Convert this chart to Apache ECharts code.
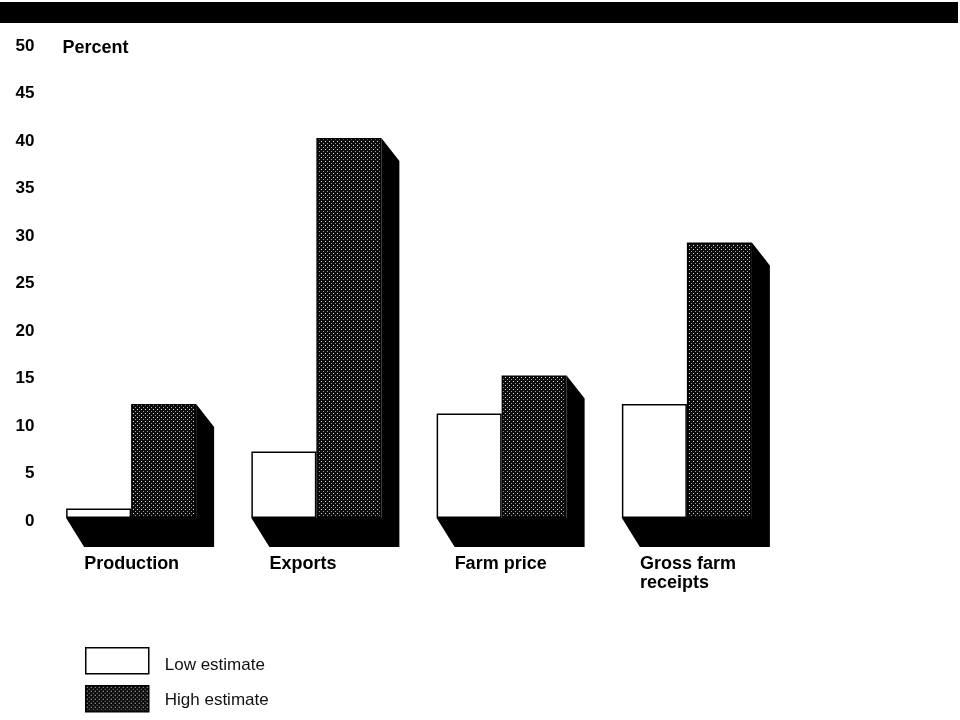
<!DOCTYPE html>
<html>
<head>
<meta charset="utf-8">
<title>Percent change estimates</title>
<script src="https://cdn.jsdelivr.net/npm/echarts@6/dist/echarts.min.js"></script>
<style>
  html, body { margin: 0; padding: 0; background: #fff; }
  #chart { width: 960px; height: 720px; }
</style>
</head>
<body>
<div id="chart"></div>
<script>
// Categories and the two estimate series (percent)
const categories = ['Production', 'Exports', 'Farm price', 'Gross farm\nreceipts'];
const lowEstimate = [1, 7, 11, 12];
const highEstimate = [12, 40, 15, 29];
const seriesNames = ['Low estimate', 'High estimate'];

// Y axis scale
const yMin = 0;
const yMax = 50;
const yStep = 5;

const BAR_W = 65;
const FONT = '"Liberation Sans", Arial, Helvetica, sans-serif';

// Stippled fill for the high estimate bars
function makeStipple() {
  const c = document.createElement('canvas');
  c.width = 4; c.height = 4;
  const g = c.getContext('2d');
  g.fillStyle = '#0b0b0b';
  g.fillRect(0, 0, 4, 4);
  g.fillStyle = '#e6e6e6';
  g.fillRect(1, 1, 1, 1);
  g.fillStyle = '#a0a0a0';
  g.fillRect(3, 3, 1, 1);
  return c;
}
const stipple = { image: makeStipple(), repeat: 'repeat' };

const chart = echarts.init(document.getElementById('chart'), null, { renderer: 'canvas' });

const shadowData = categories.map((c, i) => [i, lowEstimate[i], highEstimate[i]]);

const legendBase = {
  orient: 'vertical',
  left: 85,
  padding: 0,
  itemWidth: 63,
  itemHeight: 26,
  icon: 'rect',
  selectedMode: false,
  formatter: '{t|{name}}'
};
function legendText(padTop) {
  return {
    fontFamily: FONT, fontSize: 17, color: '#111',
    rich: { t: { fontFamily: FONT, fontSize: 17, color: '#111', padding: [padTop, 0, 0, 11] } }
  };
}

chart.setOption({
  animation: false,
  backgroundColor: '#fff',
  graphic: [
    { type: 'rect', left: 0, top: 2, shape: { width: 958, height: 21 }, style: { fill: '#000' }, z: 10 }
  ],
  grid: { left: 38.5, right: 180.5, top: 43, bottom: 202, containLabel: false },
  xAxis: {
    type: 'category',
    data: categories,
    axisLine: { show: false },
    axisTick: { show: false },
    axisLabel: { show: false },
    splitLine: { show: false }
  },
  yAxis: {
    type: 'value',
    min: yMin,
    max: yMax,
    interval: yStep,
    name: 'Percent',
    nameLocation: 'end',
    nameGap: -5,
    nameTextStyle: {
      align: 'left', verticalAlign: 'middle',
      fontFamily: FONT, fontWeight: 'bold', fontSize: 18, color: '#000',
      padding: [0, 0, 0, 24]
    },
    axisLine: { show: false },
    axisTick: { show: false },
    splitLine: { show: false },
    axisLabel: {
      margin: 4,
      fontFamily: FONT, fontWeight: 'bold', fontSize: 17, color: '#000',
      verticalAlign: 'top',
      lineHeight: 6
    }
  },
  legend: [
    Object.assign({}, legendBase, {
      top: 647,
      textStyle: legendText(10),
      data: [{ name: seriesNames[0], itemStyle: { color: '#fff', borderColor: '#000', borderWidth: 1.5 } }]
    }),
    Object.assign({}, legendBase, {
      top: 685,
      textStyle: legendText(3),
      data: [{ name: seriesNames[1], itemStyle: { color: stipple, borderColor: '#000', borderWidth: 1.5 } }]
    })
  ],
  series: [
    {
      // Black extruded shadow behind each pair of bars, plus the category text
      type: 'custom',
      name: 'shadow',
      z: 1,
      clip: false,
      silent: true,
      data: shadowData,
      renderItem: function (params, api) {
        const i = api.value(0);
        const hi = api.value(2);
        const base = api.coord([i, 0]);
        const top = api.coord([i, hi]);
        const x0 = base[0] - BAR_W;
        const x1 = base[0] + BAR_W;
        const yb = base[1];
        const yt = top[1];
        return {
          type: 'group',
          children: [
            {
              type: 'polygon',
              shape: {
                points: [
                  [x0, yb], [x0 + 18, yb + 29], [x1 + 18, yb + 29],
                  [x1 + 18, yt + 23], [x1, yt], [x1, yb]
                ]
              },
              style: { fill: '#000' }
            },
            {
              type: 'text',
              x: x0 + 18,
              y: yb + 37,
              style: {
                text: categories[i],
                font: 'bold 18px ' + FONT,
                fill: '#000',
                lineHeight: 19,
                align: 'left',
                verticalAlign: 'top'
              }
            }
          ]
        };
      }
    },
    {
      type: 'bar',
      name: seriesNames[0],
      data: lowEstimate,
      barWidth: BAR_W,
      barGap: '0%',
      z: 2,
      itemStyle: { color: '#fff', borderColor: '#000', borderWidth: 1.5 }
    },
    {
      type: 'bar',
      name: seriesNames[1],
      data: highEstimate,
      barWidth: BAR_W,
      barGap: '0%',
      z: 2,
      itemStyle: { color: stipple, borderColor: '#000', borderWidth: 1.5 }
    }
  ]
});
</script>
</body>
</html>
